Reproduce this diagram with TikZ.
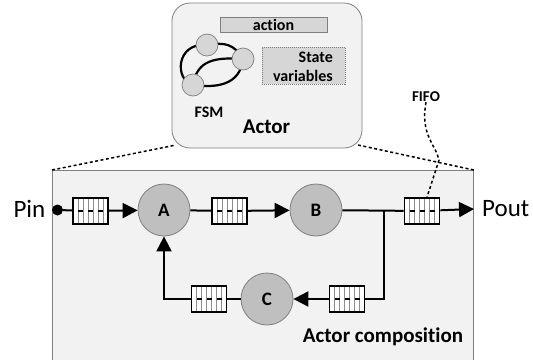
\documentclass[tikz,border=0pt]{standalone}
\usepackage{fontspec}
\setmainfont{Carlito}[Ligatures={NoCommon,NoRare,NoDiscretionary}]
\usetikzlibrary{arrows.meta}

\definecolor{panel}{HTML}{F2F2F2}
\definecolor{edge}{HTML}{7F7F7F}
\definecolor{actorfill}{HTML}{BFBFBF}
\definecolor{partfill}{HTML}{D6D6D6}
\definecolor{slot}{HTML}{8C8C8C}

\tikzset{
  actornode/.style={circle, draw=edge, line width=0.8pt, fill=actorfill,
    minimum size=52pt, inner sep=0pt, font=\fontsize{19}{21}\selectfont\bfseries},
  statenode/.style={circle, draw=edge, line width=0.7pt, fill=partfill,
    minimum size=22pt, inner sep=0pt},
  fifo/.style={draw=black, line width=1.6pt, fill=white,
    minimum width=35pt, minimum height=26pt, inner sep=0pt,
    path picture={
      \foreach \dx in {-12.5,-7.5,-2.5,2.5,7.5,12.5}
        \draw[slot, line width=0.8pt]
          ([xshift=\dx pt, yshift=-14pt]path picture bounding box.center) --
          ([xshift=\dx pt, yshift=14pt]path picture bounding box.center);
      \foreach \dx in {-12.5,-2.5,7.5}
        \draw[black, line width=1.4pt]
          ([xshift=\dx pt]path picture bounding box.center) -- ++(5,0);
    }},
  wire/.style={line width=2pt, black},
  tip/.style={-{Triangle[length=15pt, width=15pt]}},
  zoomline/.style={line width=1.5pt, dash pattern=on 3pt off 2.5pt},
  biglabel/.style={font=\fontsize{25}{30}\selectfont, inner sep=0pt},
  boldlabel/.style={font=\fontsize{#1}{#1}\selectfont\bfseries, inner sep=0pt},
}

\begin{document}
\begin{tikzpicture}[x=1pt, y=-1pt]
\useasboundingbox (0,0) rectangle (533,359);

% composition panel (continues below the page edge)
\node[draw=edge, line width=0.8pt, fill=panel, minimum width=421pt,
      minimum height=210pt, anchor=north west, inner sep=0pt] (comp) at (52,170) {};

% zoom lines from the actor card to the panel
\coordinate (cardl) at (176,145);
\coordinate (cardr) at (358,145);
\draw[zoomline] (comp.north west) -- (cardl);
\draw[zoomline] (comp.north east) -- (cardr);

% actor card
\node[draw=edge, line width=0.8pt, fill=panel, rounded corners=18pt,
      minimum width=190pt, minimum height=145pt, inner sep=0pt] (card) at (267,75.5) {};
\node[draw=edge, line width=0.8pt, fill=partfill, minimum width=107pt,
      minimum height=15pt, inner sep=0pt, boldlabel=16] (action) at (273.5,24.5) {action};
\node[draw=edge, line width=0.8pt, dash pattern=on 1pt off 1pt, fill=partfill,
      minimum width=83pt, minimum height=37pt, inner sep=0pt] (vars) at (303.5,65.5) {};
\node[font=\fontsize{16}{19}\selectfont\bfseries, align=right, anchor=east,
      inner sep=0pt] (varstext) at (333,66.5) {State\\variables};

% state machine sketch
\coordinate (s1c) at (207,45);
\coordinate (s2c) at (243,59);
\coordinate (s3c) at (193,85);
\draw[line width=2.2pt] (s1c) .. controls (176,42) and (174,80) .. (s3c);
\draw[line width=2.2pt] (s1c) .. controls (225,42) and (234,44) .. (s2c);
\draw[line width=2.2pt] (s3c) .. controls (197,60) and (215,57) .. (s2c);
\draw[line width=2.2pt] (s2c) .. controls (240,86) and (215,88) .. (s3c);
\node[statenode] (s1) at (s1c) {};
\node[statenode] (s2) at (s2c) {};
\node[statenode] (s3) at (s3c) {};
\node[boldlabel=16] (fsm) at (209,112) {FSM};
\node[boldlabel=21] (actorname) at (266.5,127) {Actor};

% actors and channels
\node[actornode] (A) at (164,210) {A};
\node[actornode] (B) at (316,210) {B};
\node[actornode] (C) at (267,299) {C};
\node[fifo] (f1) at (90.5,211) {};
\node[fifo] (f2) at (229.5,211) {};
\node[fifo] (f3) at (422,211) {};
\node[fifo] (f4) at (347,299) {};
\node[fifo] (f5) at (209,299) {};

% ports
\node[circle, fill=black, minimum size=11pt, inner sep=0pt] (pinpt) at (57.5,210) {};
\node[biglabel, anchor=east] (pin) at (45.5,209) {Pin};
\node[biglabel, anchor=west, inner xsep=8pt] (pout) at (474,209) {Pout};
\coordinate (split) at (384,210);

% FIFO callout
\node[boldlabel=15] (fifolabel) at (426,97) {FIFO};
\draw[zoomline] (fifolabel.south) .. controls (420,135) and (436,145) .. (439,160)
  -- ([xshift=5pt]f3.north);

% connections
\draw[wire] (pinpt) -- (f1);
\draw[wire, tip] (f1) -- (A);
\draw[wire] (A) -- (f2);
\draw[wire, tip] (f2) -- (B);
\draw[wire] (B) -- (f3);
\draw[wire, tip] (f3) -- (pout.west);
\draw[wire] (split) |- (f4.east);
\draw[wire, tip] (f4) -- (C);
\draw[wire] (C) -- (f5);
\draw[wire, tip] (f5.west) -| (A.south);

\node[boldlabel=21] (complabel) at (383,337) {Actor composition};
\end{tikzpicture}
\end{document}
